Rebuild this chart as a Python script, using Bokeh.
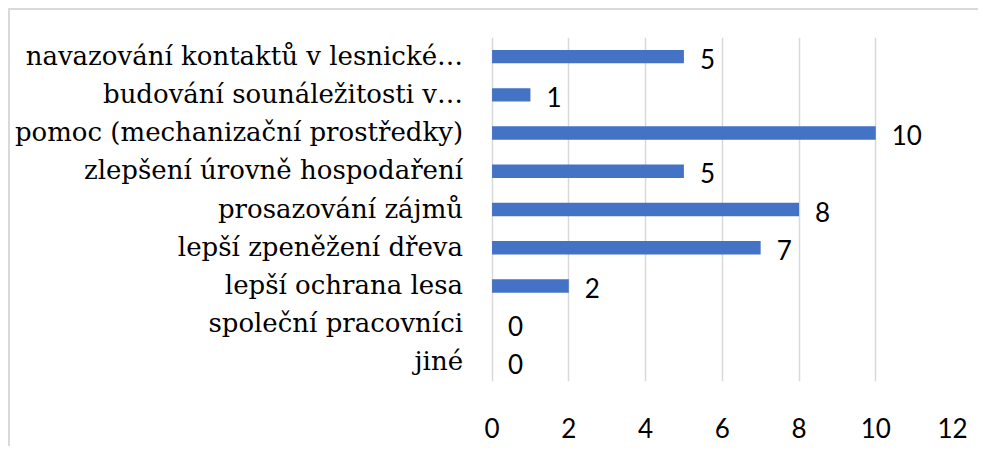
from bokeh.plotting import figure
from bokeh.models import ColumnDataSource, LabelSet, Range1d, FactorRange, FixedTicker
from bokeh.core.properties import value
from bokeh.embed import file_html
from bokeh.resources import INLINE

categories = [
    "navazování kontaktů v lesnické…",
    "budování sounáležitosti v…",
    "pomoc (mechanizační prostředky)",
    "zlepšení úrovně hospodaření",
    "prosazování zájmů",
    "lepší zpeněžení dřeva",
    "lepší ochrana lesa",
    "společní pracovníci",
    "jiné",
]
values = [5, 1, 10, 5, 8, 7, 2, 0, 0]
x_ticks = [0, 2, 4, 6, 8, 10, 12]

source = ColumnDataSource(data=dict(cat=categories, val=values,
                                    lbl=[str(v) for v in values],
                                    base=[0] * len(values)))

# the frame extends to the left so that the category labels can be drawn inside it
p = figure(
    width=970, height=438,
    y_range=FactorRange(*list(reversed(categories))),
    x_range=Range1d(-12.55, 12),
    output_backend="svg", toolbar_location=None,
    min_border_left=0, min_border_right=28, min_border_top=27, min_border_bottom=67,
)
p.styles = {"margin-left": "8px", "margin-top": "8px",
            "border-left": "2px solid #d9d9d9", "border-top": "2px solid #d9d9d9"}
p.outline_line_color = None
p.background_fill_color = "white"
p.border_fill_color = "white"

p.hbar(y="cat", right="val", left=0, height=0.35, source=source,
       fill_color="#4472C4", line_color=None)

labels = LabelSet(x="val", y="cat", text="lbl", source=source, x_offset=16, y_offset=-2,
                  text_baseline="middle", text_align="left",
                  text_font=value("Lato"), text_font_size="26px", text_color="black")
p.add_layout(labels)

cat_labels = LabelSet(x="base", y="cat", text="cat", source=source, x_offset=-29, y_offset=1,
                      text_baseline="middle", text_align="right",
                      text_font=value("DejaVu Serif"), text_font_size="26px",
                      text_color="black")
p.add_layout(cat_labels)

p.xaxis.ticker = FixedTicker(ticks=x_ticks)
p.xaxis.axis_line_color = None
p.xaxis.major_tick_line_color = None
p.xaxis.minor_tick_line_color = None
p.xaxis.major_label_text_font = "Lato"
p.xaxis.major_label_text_font_size = "26px"
p.xaxis.major_label_text_color = "black"
p.xaxis.major_label_standoff = 30

p.yaxis.visible = False

p.xgrid.grid_line_color = "#d9d9d9"
p.xgrid.grid_line_width = 1.5
p.ygrid.grid_line_color = None

open("out.html", "w").write(file_html(p, INLINE))
